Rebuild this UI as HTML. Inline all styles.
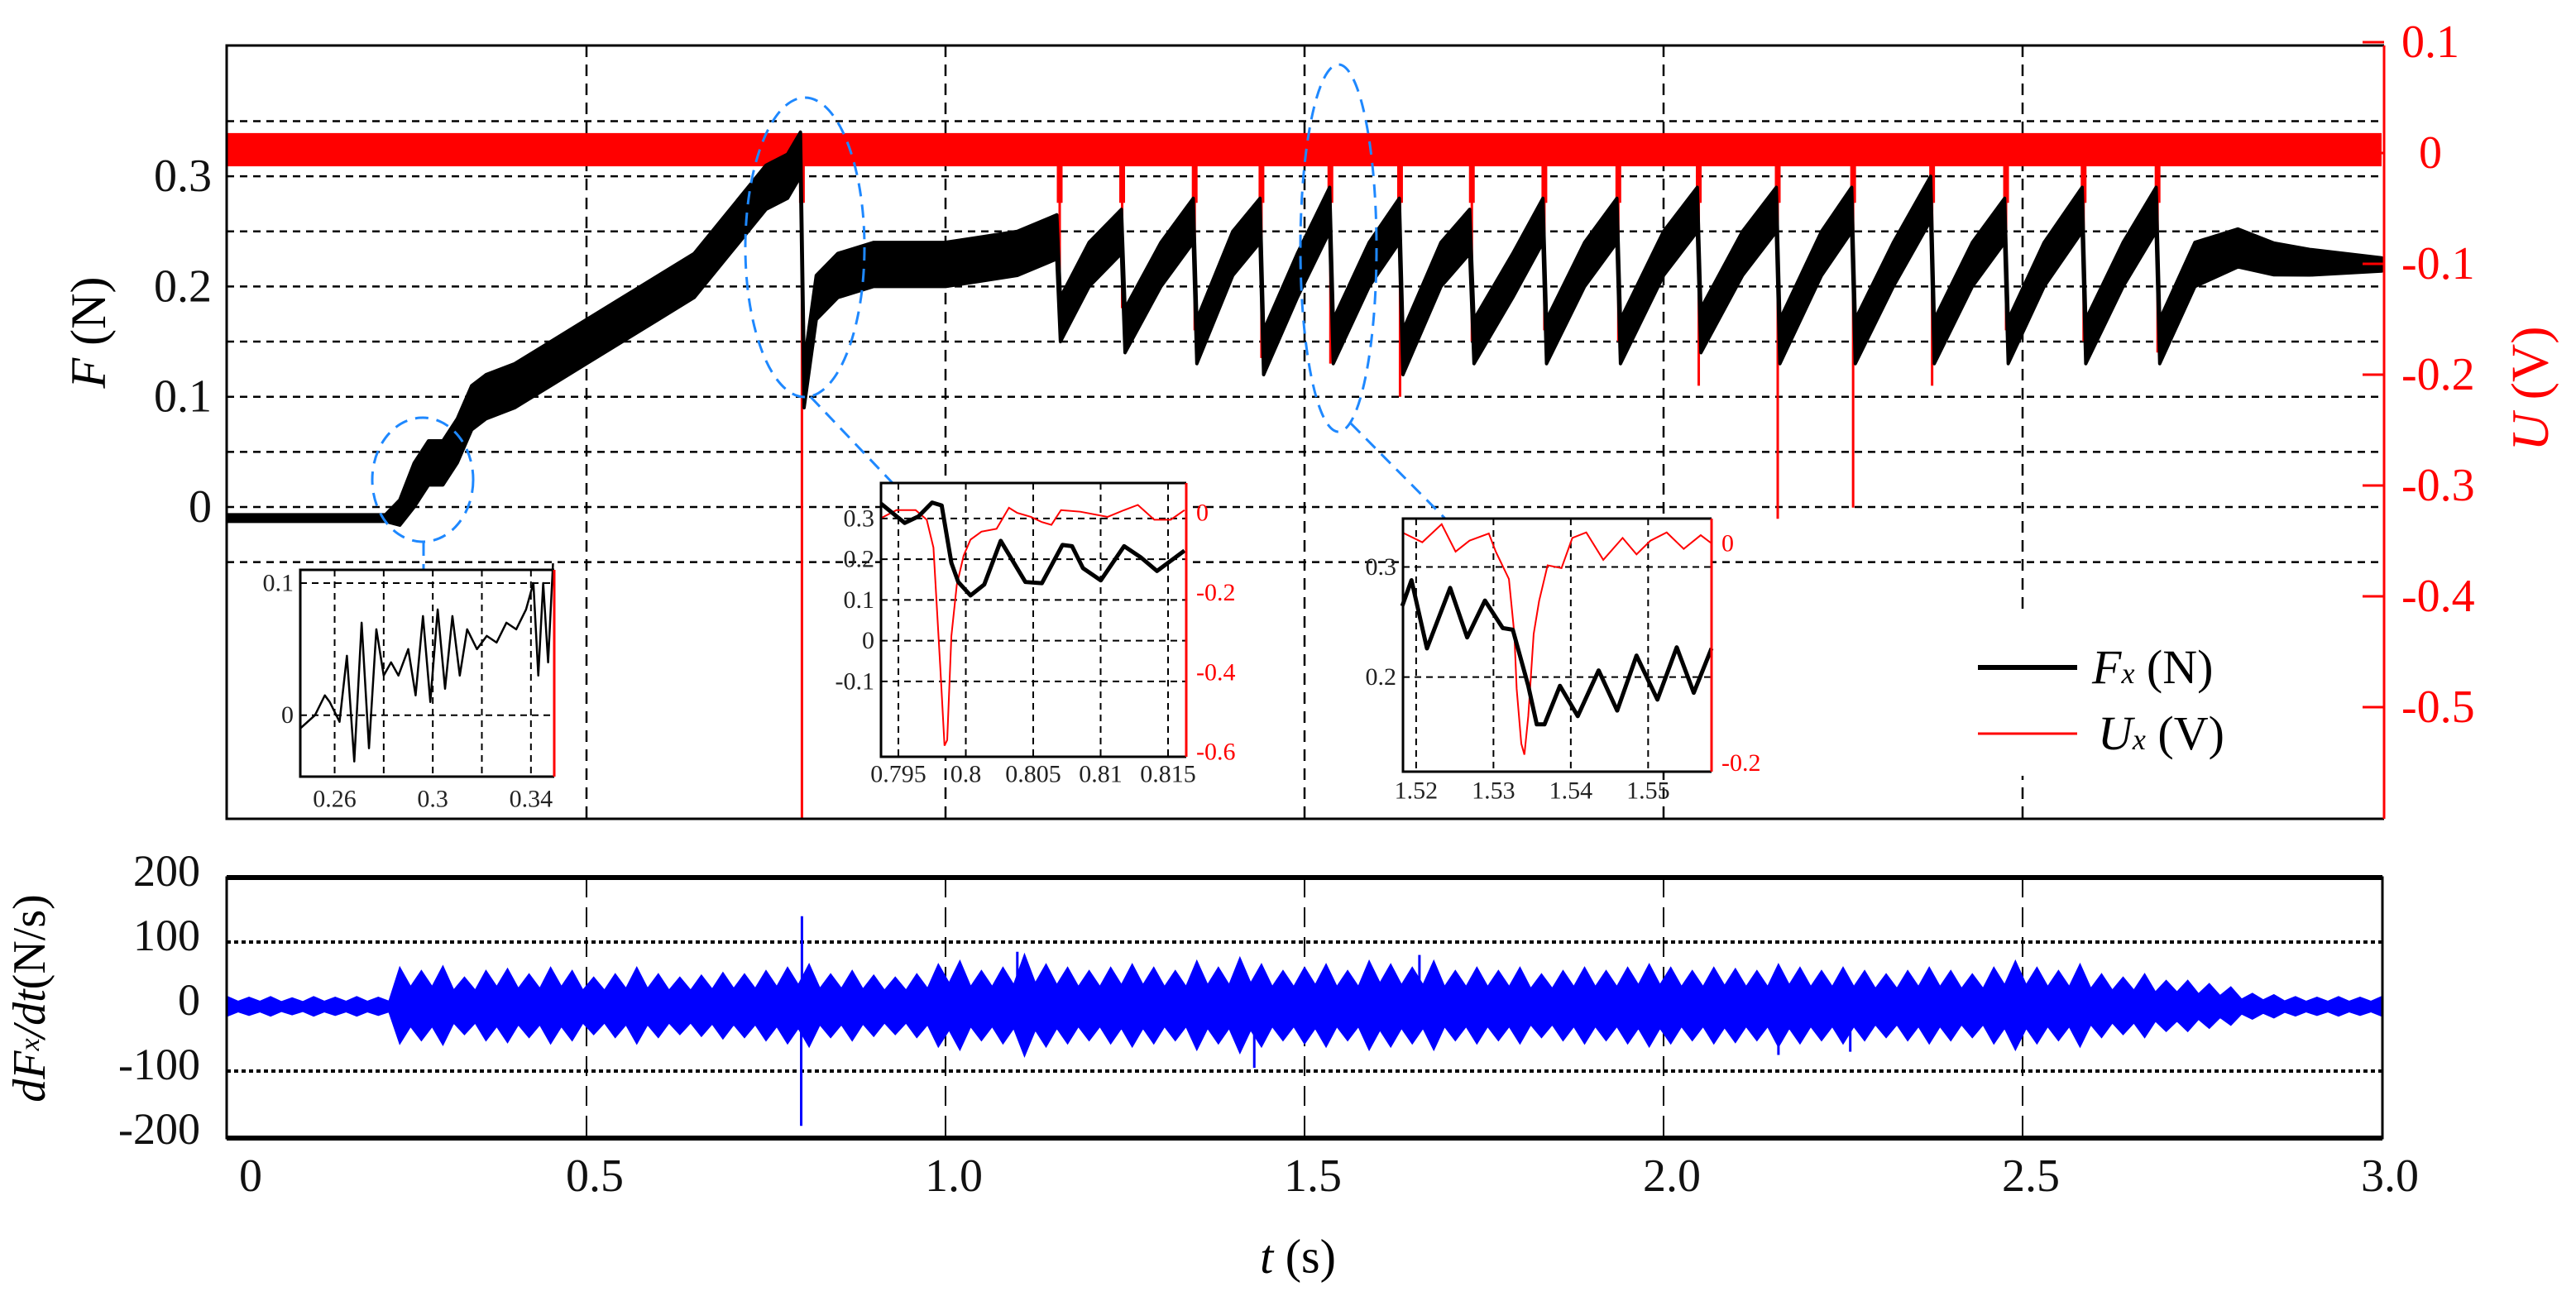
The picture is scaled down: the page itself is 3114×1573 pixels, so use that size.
<!DOCTYPE html>
<html><head><meta charset="utf-8"><style>
html,body{margin:0;padding:0;background:#fff;}
svg{display:block;}
text{font-family:"Liberation Serif",serif;}
</style></head><body>
<svg id="chart" width="3114" height="1573" viewBox="0 0 3114 1573" xmlns="http://www.w3.org/2000/svg">
<g id="grid"></g>
<g id="series"></g>
<g id="frames"></g>
<g id="insets"></g>
<g id="labels"></g>
</svg>
<script>
// ---------- main F series (N) ----------
const fT=[0,0.22,0.24,0.26,0.28,0.30,0.32,0.34,0.36,0.40,0.45,0.50,0.55,0.60,0.65,0.70,0.75,0.78,0.798,0.803,0.82,0.85,0.9,0.95,1.0,1.05,1.1,1.155,1.16,1.2,1.245,1.25,1.3,1.345,1.35,1.4,1.438,1.443,1.49,1.535,1.54,1.59,1.632,1.637,1.69,1.73,1.736,1.79,1.832,1.837,1.89,1.935,1.94,2.0,2.047,2.052,2.11,2.157,2.162,2.22,2.262,2.267,2.32,2.372,2.377,2.43,2.475,2.48,2.53,2.583,2.588,2.64,2.686,2.691,2.74,2.8,2.85,2.9,3.0];
const fV=[-0.01,-0.01,-0.005,0.02,0.04,0.04,0.06,0.09,0.10,0.11,0.13,0.15,0.17,0.19,0.21,0.25,0.29,0.30,0.32,0.11,0.19,0.21,0.22,0.22,0.22,0.225,0.23,0.245,0.17,0.22,0.25,0.16,0.22,0.26,0.15,0.23,0.26,0.14,0.21,0.27,0.15,0.22,0.26,0.14,0.22,0.25,0.15,0.21,0.26,0.15,0.22,0.26,0.15,0.23,0.27,0.16,0.23,0.27,0.15,0.23,0.27,0.15,0.22,0.28,0.15,0.22,0.26,0.15,0.22,0.27,0.15,0.22,0.27,0.15,0.22,0.235,0.225,0.222,0.22];
const fHalfT=[0,0.23,0.25,2.75,3.0];
const fHalfV=[0.003,0.003,0.02,0.02,0.006];
// ---------- U series (V) ----------
const uBandHi=0.018, uBandLo=-0.012;
const uSpikeT=[0.8,1.159,1.246,1.347,1.44,1.536,1.633,1.733,1.834,1.937,2.049,2.159,2.264,2.374,2.477,2.585,2.688];
const uSpikeV=[-0.6,-0.14,-0.14,-0.16,-0.185,-0.19,-0.22,-0.17,-0.16,-0.17,-0.21,-0.33,-0.32,-0.21,-0.16,-0.17,-0.18];
// ---------- dF/dt (N/s) ----------
const bStep=0.03;
const bPeak=[15,14,15,13,15,14,15,14,60,55,62,45,55,58,50,60,55,45,50,60,50,45,48,52,50,55,60,65,50,55,48,45,50,65,70,55,60,80,65,60,55,60,65,60,55,70,60,75,65,55,60,65,55,70,65,60,70,55,60,55,60,50,55,60,55,60,65,60,55,60,58,55,65,60,55,60,55,50,55,60,55,50,60,70,60,55,65,50,45,50,40,40,35,30,20,18,15,14,15,14,15];
const bSpikeT=[0.8,0.799,1.1,1.43,2.16,1.66,2.26];
const bSpikeV=[140,-185,85,-95,-75,80,-70];
// ---------- ticks ----------
const xTicks=[0,0.5,1.0,1.5,2.0,2.5,3.0];
const xTickLabels=["0","0.5","1.0","1.5","2.0","2.5","3.0"];
const fGrid=[-0.05,0,0.05,0.1,0.15,0.2,0.25,0.3,0.35];
const fTickLabels=["0","0.1","0.2","0.3"];
const fTickVals=[0,0.1,0.2,0.3];
const uTickVals=[0.1,0,-0.1,-0.2,-0.3,-0.4,-0.5];
const uTickLabels=["0.1","0","-0.1","-0.2","-0.3","-0.4","-0.5"];
const bTickVals=[200,100,0,-100,-200];
const bTickLabels=["200","100","0","-100","-200"];
// ---------- inset 1 ----------
const i1T=[0.246,0.252,0.256,0.258,0.262,0.265,0.268,0.271,0.274,0.277,0.28,0.283,0.286,0.29,0.293,0.296,0.299,0.302,0.305,0.308,0.311,0.314,0.318,0.322,0.326,0.33,0.334,0.338,0.341,0.343,0.345,0.347,0.349];
const i1F=[-0.01,0,0.015,0.01,-0.005,0.045,-0.035,0.07,-0.025,0.065,0.03,0.04,0.03,0.05,0.015,0.075,0.01,0.08,0.02,0.075,0.03,0.065,0.05,0.06,0.055,0.07,0.065,0.08,0.1,0.03,0.1,0.04,0.115];
const i1XTicks=[0.26,0.28,0.30,0.32,0.34];
const i1XLabels=["0.26","","0.3","","0.34"];
// ---------- inset 2 ----------
const i2T=[0.79372,0.79547,0.79649,0.7975,0.79821,0.79893,0.79944,0.80035,0.80137,0.80259,0.80442,0.80564,0.80717,0.80788,0.80869,0.81001,0.81174,0.81296,0.81418,0.81622];
const i2F=[0.336,0.289,0.305,0.339,0.332,0.191,0.144,0.111,0.138,0.245,0.144,0.141,0.235,0.232,0.178,0.148,0.232,0.205,0.171,0.221];
const i2UT=[0.79372,0.79486,0.79628,0.7971,0.7976,0.79811,0.79842,0.79862,0.79893,0.79933,0.79984,0.80035,0.80116,0.80228,0.8032,0.80381,0.80483,0.80564,0.80635,0.80706,0.80849,0.81052,0.81174,0.81276,0.81398,0.8152,0.81622];
const i2U=[-0.013,0.007,0.007,-0.017,-0.087,-0.389,-0.584,-0.57,-0.309,-0.181,-0.107,-0.067,-0.047,-0.04,0.013,0,-0.01,-0.023,-0.03,0.007,0.003,-0.01,0.007,0.02,-0.017,-0.017,0.007];
const i2XTicks=[0.795,0.8,0.805,0.81,0.815];
const i2XLabels=["0.795","0.8","0.805","0.81","0.815"];
const i2FTicks=[0.3,0.2,0.1,0,-0.1];
const i2FLabels=["0.3","0.2","0.1","0","-0.1"];
const i2UTicks=[0,-0.2,-0.4,-0.6];
const i2ULabels=["0","-0.2","-0.4","-0.6"];
// ---------- inset 3 ----------
const i3T=[1.5182,1.5194,1.5214,1.5244,1.5266,1.5289,1.5312,1.5325,1.5345,1.5356,1.5366,1.5386,1.5409,1.5436,1.546,1.5485,1.5512,1.5537,1.5559,1.5582];
const i3F=[0.2645,0.288,0.226,0.281,0.236,0.2695,0.2445,0.243,0.192,0.157,0.157,0.192,0.1645,0.206,0.1695,0.2195,0.1795,0.227,0.1857,0.226];
const i3UT=[1.5182,1.5208,1.5233,1.5251,1.5269,1.5294,1.5303,1.532,1.5327,1.533,1.5336,1.534,1.5345,1.5352,1.5359,1.537,1.5388,1.5402,1.542,1.5442,1.5467,1.5485,1.5503,1.5524,1.5546,1.5568,1.5582];
const i3U=[0.01,0.001,0.0175,-0.0075,0.0025,0.009,-0.0075,-0.0325,-0.0825,-0.1325,-0.1825,-0.1925,-0.1575,-0.0825,-0.0525,-0.02,-0.0225,0.005,0.01,-0.015,0.005,-0.01,0.0025,0.01,-0.005,0.0075,0];
const i3XTicks=[1.52,1.53,1.54,1.55];
const i3XLabels=["1.52","1.53","1.54","1.55"];
const i3FTicks=[0.3,0.2];
const i3FLabels=["0.3","0.2"];
const i3UTicks=[0,-0.2];
const i3ULabels=["0","-0.2"];

// ---------- helpers ----------
const NS="http://www.w3.org/2000/svg";
function mk(parent,tag,attrs){const e=document.createElementNS(NS,tag);for(const k in attrs)e.setAttribute(k,attrs[k]);parent.appendChild(e);return e;}
function txt(parent,x,y,s,size,anchor,fill){const e=mk(parent,'text',{x:x,y:y,'font-size':size,'text-anchor':anchor||'middle',fill:fill||'#000','dominant-baseline':'central'});e.textContent=s;return e;}
const X=t=>275+t*868;
const YF=f=>613-f*1333;
const YU=u=>185-u*1340;
const YB=v=>1217-v*0.78;
function interp(ts,vs,t){if(t<=ts[0])return vs[0];for(let i=1;i<ts.length;i++){if(t<=ts[i]){const a=(t-ts[i-1])/(ts[i]-ts[i-1]);return vs[i-1]+a*(vs[i]-vs[i-1]);}}return vs[vs.length-1];}

const grid=document.getElementById('grid');
const series=document.getElementById('series');
const frames=document.getElementById('frames');
const insets=document.getElementById('insets');
const labels=document.getElementById('labels');

// ---------- grid ----------
fGrid.forEach(f=>{const l=mk(grid,'line',{x1:274,x2:2882,y1:YF(f),y2:YF(f),stroke:'#000','stroke-width':2.5,'stroke-dasharray':'9,7'});

});
xTicks.slice(1,-1).forEach(t=>{const l=mk(grid,'line',{x1:X(t),x2:X(t),y1:55,y2:990,stroke:'#000','stroke-width':2.5,'stroke-dasharray':'14,9'});

});
[100,-100].forEach(v=>{const l=mk(grid,'line',{x1:274,x2:2880,y1:YB(v),y2:YB(v),stroke:'#000','stroke-width':4,'stroke-dasharray':'5,4'});

});
xTicks.slice(1,-1).forEach(t=>{const l=mk(grid,'line',{x1:X(t),x2:X(t),y1:1061,y2:1376,stroke:'#000','stroke-width':2,'stroke-dasharray':'24,12'});

});

// ---------- U band + spikes ----------
{const r=mk(series,'rect',{x:X(0),y:YU(uBandHi),width:X(3)-X(0),height:YU(uBandLo)-YU(uBandHi),fill:'#ff0000'});


uSpikeT.forEach((t,i)=>{
 const n=mk(series,'line',{x1:X(t),x2:X(t),y1:YU(0),y2:YU(-0.045),stroke:'#ff0000','stroke-width':7});
 
 
 const s=mk(series,'line',{x1:X(t),x2:X(t),y1:YU(0),y2:YU(uSpikeV[i]),stroke:'#ff0000','stroke-width':3});
 
 
});}

// ---------- F band ----------
{let up=[],lo=[];
fT.forEach((t,i)=>{const h=interp(fHalfT,fHalfV,t);up.push(X(t)+','+YF(fV[i]+h));lo.unshift(X(t)+','+YF(fV[i]-h));});
const p=mk(series,'polygon',{points:up.concat(lo).join(' '),fill:'#000',stroke:'#000','stroke-width':4,'stroke-linejoin':'round'});

}

// ---------- dF/dt band ----------
{let up=[],lo=[];
bPeak.forEach((v,i)=>{const t=i*bStep;up.push(X(t)+','+YB(v));lo.unshift(X(t)+','+YB(-v*0.95));
 if(i<bPeak.length-1){const tm=t+bStep/2;const vm=Math.min(v,bPeak[i+1])*0.55;up.push(X(tm)+','+YB(vm));lo.unshift(X(tm)+','+YB(-vm));}});
const p=mk(series,'polygon',{points:up.concat(lo).join(' '),fill:'#0000ff',stroke:'#0000ff','stroke-width':2});


bSpikeT.forEach((t,i)=>{const s=mk(series,'line',{x1:X(t),x2:X(t),y1:YB(0),y2:YB(bSpikeV[i]),stroke:'#0000ff','stroke-width':3});
 
 });}

// ---------- frames ----------
{const a=mk(frames,'path',{d:'M2882,55 L274,55 L274,990 L2882,990',fill:'none',stroke:'#000','stroke-width':3});


const r=mk(frames,'line',{x1:2882,x2:2882,y1:55,y2:990,stroke:'#ff0000','stroke-width':3});


uTickVals.forEach(u=>{const t=mk(frames,'line',{x1:2856,x2:2882,y1:YU(u),y2:YU(u),stroke:'#ff0000','stroke-width':3});
 
 });
const b=mk(frames,'rect',{x:274,y:1061,width:2606,height:315,fill:'none',stroke:'#000','stroke-width':3});


[1061,1376].forEach(y=>{const l=mk(frames,'line',{x1:274,x2:2880,y1:y,y2:y,stroke:'#000','stroke-width':6});
 
 });}

// ---------- ellipses & connectors ----------
{const sty={fill:'none',stroke:'#1e88ff','stroke-width':3,'stroke-dasharray':'16,10'};
[[511,580,61,75],[973,299,72,181],[1618,300,46,222]].forEach((e,i)=>{const el=mk(insets,'ellipse',Object.assign({cx:e[0],cy:e[1],rx:e[2],ry:e[3]},sty));
 
 });
[[512,656,512,689],[980,480,1079,584],[1633,512,1748,628]].forEach(c=>{const l=mk(insets,'line',Object.assign({x1:c[0],y1:c[1],x2:c[2],y2:c[3]},sty));
 
 });}

// ---------- inset builder ----------
function inset(name,box,tr,fr,ur,xt,xl,ft,fl,ut,ul,fT_,fV_,uT_,uV_,xlY,fsize){
 const g=mk(insets,'g',{});
 
 
 const [x0,y0,x1,y1]=box;
 const sx=t=>x0+(t-tr[0])/(tr[1]-tr[0])*(x1-x0);
 const sf=f=>y0+(fr[1]-f)/(fr[1]-fr[0])*(y1-y0);
 const su=ur?u=>y0+(ur[1]-u)/(ur[1]-ur[0])*(y1-y0):null;
 mk(g,'rect',{x:x0,y:y0,width:x1-x0,height:y1-y0,fill:'#fff'});
 xt.forEach((t,i)=>{mk(g,'line',{x1:sx(t),x2:sx(t),y1:y0,y2:y1,stroke:'#000','stroke-width':2,'stroke-dasharray':'8,6'});
  if(xl[i])txt(g,sx(t),xlY,xl[i],fsize,'middle','#222');});
 ft.forEach((f,i)=>{mk(g,'line',{x1:x0,x2:x1,y1:sf(f),y2:sf(f),stroke:'#000','stroke-width':2,'stroke-dasharray':'8,6'});
  txt(g,x0-8,sf(f),fl[i],fsize,'end','#222');});
 if(ut)ut.forEach((u,i)=>txt(g,x1+12,su(u),ul[i],fsize,'start','#ff0000'));
 if(uT_){const pu=mk(g,'polyline',{points:uT_.map((t,i)=>sx(t)+','+su(uV_[i])).join(' '),fill:'none',stroke:'#ff0000','stroke-width':2});
  
  }
 const pf=mk(g,'polyline',{points:fT_.map((t,i)=>sx(t)+','+sf(fV_[i])).join(' '),fill:'none',stroke:'#000','stroke-width':uT_?5:2.5,'stroke-linejoin':'round'});
 
 
 mk(g,'path',{d:`M${x1},${y0} L${x0},${y0} L${x0},${y1} L${x1},${y1}`,fill:'none',stroke:'#000','stroke-width':3});
 mk(g,'line',{x1:x1,x2:x1,y1:y0,y2:y1,stroke:'#ff0000','stroke-width':3});
}
inset('inset-1',[363,689,670,939],[0.246,0.3495],[-0.0465,0.11],null,i1XTicks,i1XLabels,[0,0.1],["0","0.1"],null,null,i1T,i1F,null,null,966,30);
inset('inset-2',[1065,584,1434,915],[0.79371,0.81635],[-0.285,0.387],[-0.612,0.075],i2XTicks,i2XLabels,i2FTicks,i2FLabels,i2UTicks,i2ULabels,i2T,i2F,i2UT,i2U,936,30);
inset('inset-3',[1696,627,2069,933],[1.5183,1.5582],[0.114,0.344],[-0.208,0.0226],i3XTicks,i3XLabels,i3FTicks,i3FLabels,i3UTicks,i3ULabels,i3T,i3F,i3UT,i3U,956,30);

// ---------- legend ----------
{const g=mk(insets,'g',{});


mk(g,'rect',{x:2340,y:742,width:420,height:196,fill:'#fff'});
mk(g,'line',{x1:2391,x2:2511,y1:807,y2:807,stroke:'#000','stroke-width':6});
mk(g,'line',{x1:2391,x2:2511,y1:887,y2:887,stroke:'#ff0000','stroke-width':3});
const t1=mk(g,'text',{x:2529,y:826,'font-size':58,fill:'#000'});
t1.innerHTML='<tspan font-style="italic">F</tspan><tspan font-style="italic" font-size="36">x</tspan> (N)';


const t2=mk(g,'text',{x:2536,y:906,'font-size':58,fill:'#000'});
t2.innerHTML='<tspan font-style="italic">U</tspan><tspan font-style="italic" font-size="36">x</tspan> (V)';

}

// ---------- axis labels ----------
fTickVals.forEach((f,i)=>{const e=txt(labels,256,YF(f),fTickLabels[i],56,'end','#111');
 
 });
uTickVals.forEach((u,i)=>{const e=txt(labels,u===0?2924:2903,YU(u),uTickLabels[i],56,'start','#ff0000');
 
 });
bTickVals.forEach((v,i)=>{const e=txt(labels,242,YB(v)-8,bTickLabels[i],54,'end','#111');
 
 });
xTicks.forEach((t,i)=>{const e=txt(labels,X(t)+(i===0?28:10),1422,xTickLabels[i],56,'middle','#111');
 
 });
{const e=mk(labels,'text',{x:0,y:0,'font-size':60,'text-anchor':'middle','dominant-baseline':'central',transform:'translate(107,402) rotate(-90)'});
 e.innerHTML='<tspan font-style="italic">F</tspan> (N)';
 
 
 const u=mk(labels,'text',{x:0,y:0,'font-size':64,'text-anchor':'middle','dominant-baseline':'central',fill:'#ff0000',transform:'translate(3058,470) rotate(-90)'});
 u.innerHTML='<tspan font-style="italic">U</tspan> (V)';
 
 
 const b=mk(labels,'text',{x:0,y:0,'font-size':56,'text-anchor':'middle','dominant-baseline':'central',transform:'translate(36,1207) rotate(-90)'});
 b.innerHTML='<tspan font-style="italic">dF</tspan><tspan font-style="italic" font-size="34">x</tspan><tspan font-style="italic">/dt</tspan>(N/s)';
 
 
 const x=mk(labels,'text',{x:1569,y:1519,'font-size':58,'text-anchor':'middle','dominant-baseline':'central'});
 x.innerHTML='<tspan font-style="italic">t</tspan> (s)';
 
 }
</script>
</body></html>
